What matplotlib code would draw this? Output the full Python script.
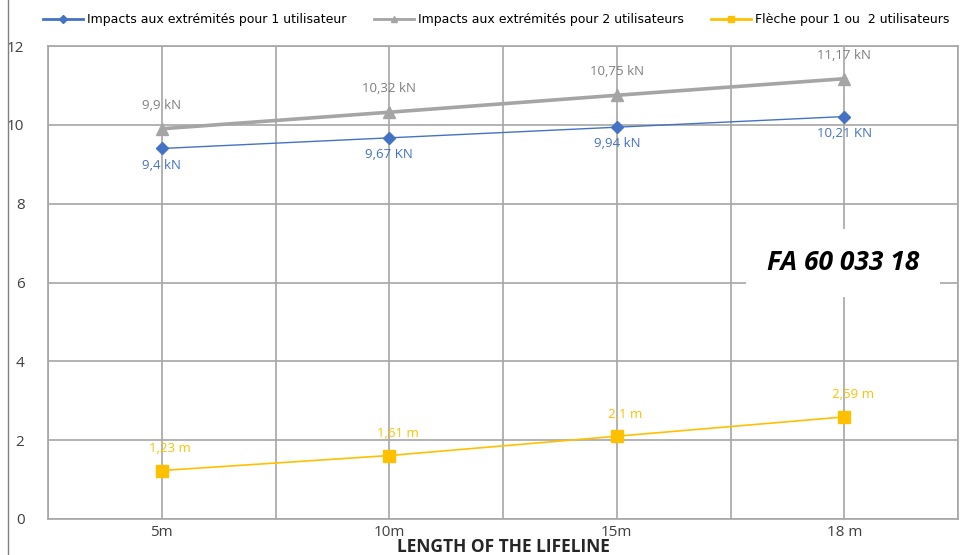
import matplotlib.pyplot as plt
from matplotlib.lines import Line2D

categories = ["5m", "10m", "15m", "18 m"]
impact_1 = [9.4, 9.67, 9.94, 10.21]
impact_2 = [9.9, 10.32, 10.75, 11.17]
fleche = [1.23, 1.61, 2.1, 2.59]
labels_1 = ["9,4 kN", "9,67 KN", "9,94 kN", "10,21 KN"]
labels_2 = ["9,9 kN", "10,32 kN", "10,75 kN", "11,17 kN"]
labels_f = ["1,23 m", "1,61 m", "2,1 m", "2,59 m"]

BLUE = "#4472C4"
GRAY = "#A5A5A5"
YELLOW = "#FFC000"
GRID = "#A6A6A6"

plt.rcParams["font.family"] = ["Open Sans", "DejaVu Sans"]

fig = plt.figure(figsize=(9.67, 5.55), dpi=100)
ax = fig.add_axes([48 / 967, 1 - 519 / 555, 910 / 967, 473 / 555])

x = [i + 0.5 for i in range(len(categories))]

ax.plot(x, impact_2, color=GRAY, lw=2.6, marker="^", ms=8, zorder=3)
ax.plot(x, impact_1, color=BLUE, lw=1.0, marker="D", ms=6, zorder=4)
ax.plot(x, fleche, color=YELLOW, lw=1.2, marker="s", ms=9, zorder=3)

for xi, v, t in zip(x, impact_2, labels_2):
    ax.annotate(t, (xi, v), xytext=(0, 17), textcoords="offset points",
                ha="center", va="center", color="#7F7F7F", fontsize=9.5)
for xi, v, t in zip(x, impact_1, labels_1):
    ax.annotate(t, (xi, v), xytext=(0, -12), textcoords="offset points",
                ha="center", va="center", color=BLUE, fontsize=9.5)
for xi, v, t in zip(x, fleche, labels_f):
    ax.annotate(t, (xi, v), xytext=(6, 16), textcoords="offset points",
                ha="center", va="center", color=YELLOW, fontsize=9.5)

ax.set_xlim(0, 4)
ax.set_ylim(0, 12)
ax.set_yticks(range(0, 13, 2))
ax.set_xticks(x)
ax.set_xticklabels(categories)
ax.set_xticks([i * 0.5 for i in range(9)], minor=True)
ax.grid(True, which="minor", axis="x", color=GRID, lw=1.2)
ax.grid(True, which="major", axis="both", color=GRID, lw=1.2)
ax.set_axisbelow(True)
ax.tick_params(axis="both", which="both", length=0, labelsize=11, colors="#404040")
ax.tick_params(axis="y", pad=17)
ax.tick_params(axis="x", pad=4)
for s in ax.spines.values():
    s.set_color(GRID)
    s.set_linewidth(1.2)

ax.set_xlabel("LENGTH OF THE LIFELINE", fontsize=12.5, fontweight="bold",
              color="#262626", labelpad=-1)

fig.text(843 / 967, 1 - 263 / 555, "FA 60 033 18", fontsize=19, fontweight="bold",
         style="italic", ha="center", va="center", color="black",
         bbox=dict(facecolor="white", edgecolor="none", pad=15))

handles = [
    Line2D([], [], color=BLUE, lw=2, marker="D", ms=4),
    Line2D([], [], color=GRAY, lw=2, marker="^", ms=5),
    Line2D([], [], color=YELLOW, lw=2, marker="s", ms=5),
]
names = ["Impacts aux extrémités pour 1 utilisateur",
         "Impacts aux extrémités pour 2 utilisateurs",
         "Flèche pour 1 ou  2 utilisateurs"]
fig.legend(handles, names, loc="center", bbox_to_anchor=(0.513, 1 - 20 / 555),
           ncol=3, frameon=False, handlelength=3.2,
           columnspacing=2.2, handletextpad=0.3,
           prop={"family": ["DejaVu Sans"], "size": 9})

fig.add_artist(Line2D([8 / 967, 8 / 967], [0, 1], color="#7F7F7F", lw=1))

fig.savefig("out.png", dpi=100)
